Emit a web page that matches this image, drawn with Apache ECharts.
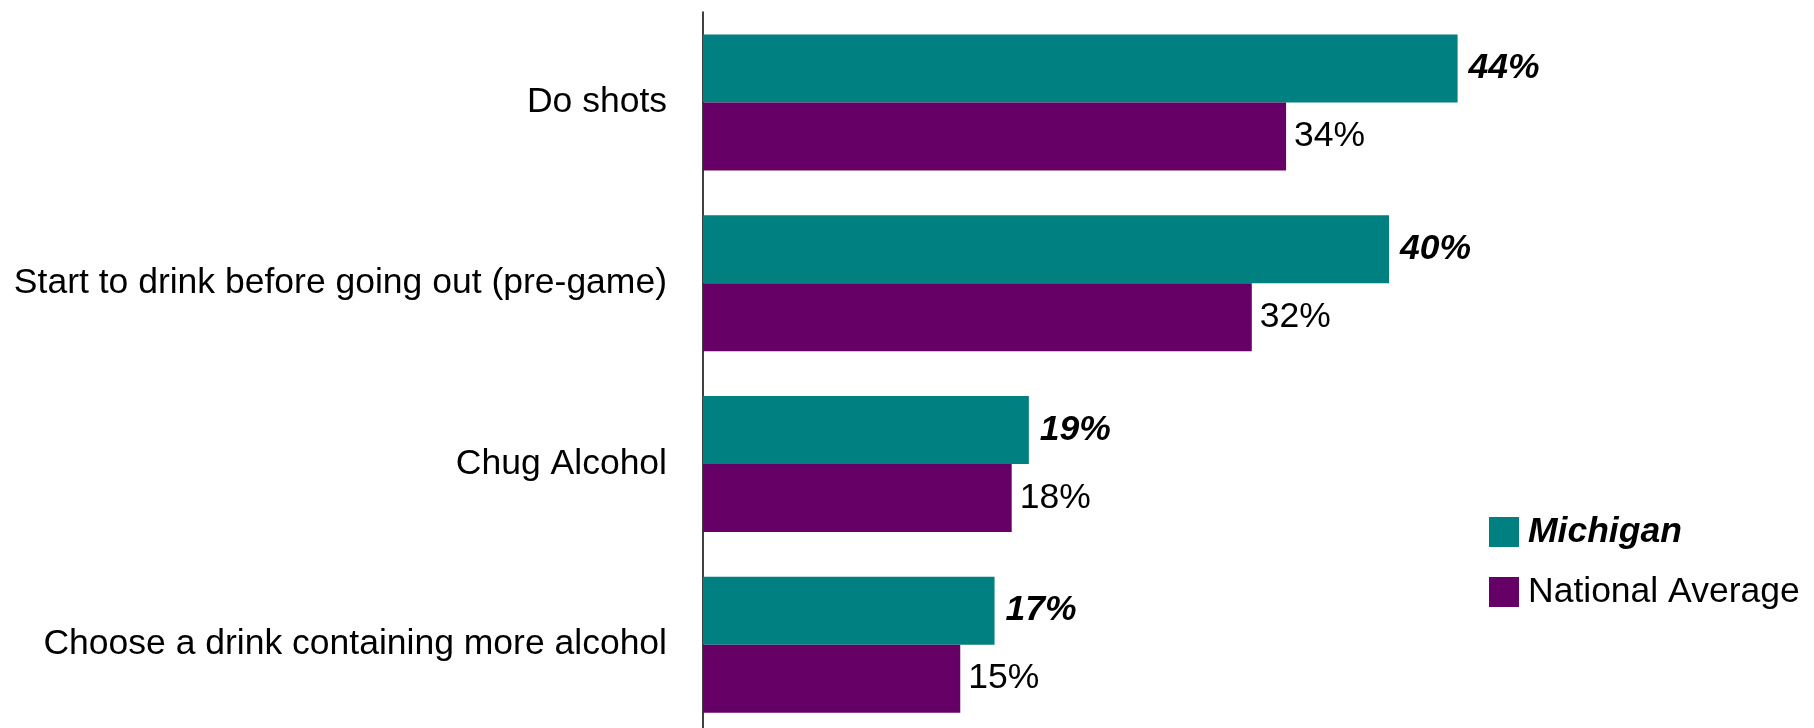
<!DOCTYPE html>
<html>
<head>
<meta charset="utf-8">
<script src="https://cdn.jsdelivr.net/npm/echarts@6/dist/echarts.min.js"></script>
<style>
html,body{margin:0;padding:0;background:#fff;}
#chart{width:1814px;height:728px;}
</style>
</head>
<body>
<div id="chart"></div>
<script>
const categories = [
  "Do shots",
  "Start to drink before going out (pre-game)",
  "Chug Alcohol",
  "Choose a drink containing more alcohol"
];
const michigan = [44, 40, 19, 17];
const national = [34, 32, 18, 15];
const seriesNames = ["Michigan", "National Average"];

const FONT = "'Liberation Sans', Arial, sans-serif";
const FS = 35.5;
const chart = echarts.init(document.getElementById('chart'), null, {renderer: 'canvas'});
chart.setOption({
  animation: false,
  backgroundColor: '#ffffff',
  textStyle: {fontFamily: FONT},
  grid: {left: 703, top: 12, width: 1029, height: 723, containLabel: false, outerBoundsMode: 'none'},
  xAxis: {type: 'value', min: 0, max: 60, show: false},
  yAxis: {
    type: 'category',
    data: categories,
    inverse: true,
    axisLine: {show: true, lineStyle: {color: '#000000', width: 1.5}},
    axisTick: {show: false},
    axisLabel: {color: '#000000', fontSize: FS, fontFamily: FONT, margin: 36, padding: [5, 0, 0, 0]}
  },
  legend: {
    orient: 'vertical',
    left: 1489,
    top: 512,
    padding: 0,
    itemWidth: 30,
    itemHeight: 30,
    itemGap: 20,
    icon: 'rect',
    textStyle: {fontSize: FS, lineHeight: 40, color: '#000000', fontFamily: FONT, padding: [0,0,0,4]},
    data: [
      {name: seriesNames[0], textStyle: {fontWeight: 'bold', fontStyle: 'italic'}},
      {name: seriesNames[1]}
    ]
  },
  series: [
    {
      name: seriesNames[0],
      type: 'bar',
      data: michigan,
      barWidth: 68,
      barGap: '0%',
      itemStyle: {color: '#008080'},
      label: {show: true, position: 'right', distance: 11, formatter: '{c}%', color: '#000', fontSize: FS, fontWeight: 'bold', fontStyle: 'italic', fontFamily: FONT}
    },
    {
      name: seriesNames[1],
      type: 'bar',
      data: national,
      barWidth: 68,
      barGap: '0%',
      itemStyle: {color: '#660066'},
      label: {show: true, position: 'right', distance: 8, formatter: '{c}%', color: '#000', fontSize: FS, fontFamily: FONT}
    }
  ]
});
</script>
</body>
</html>
